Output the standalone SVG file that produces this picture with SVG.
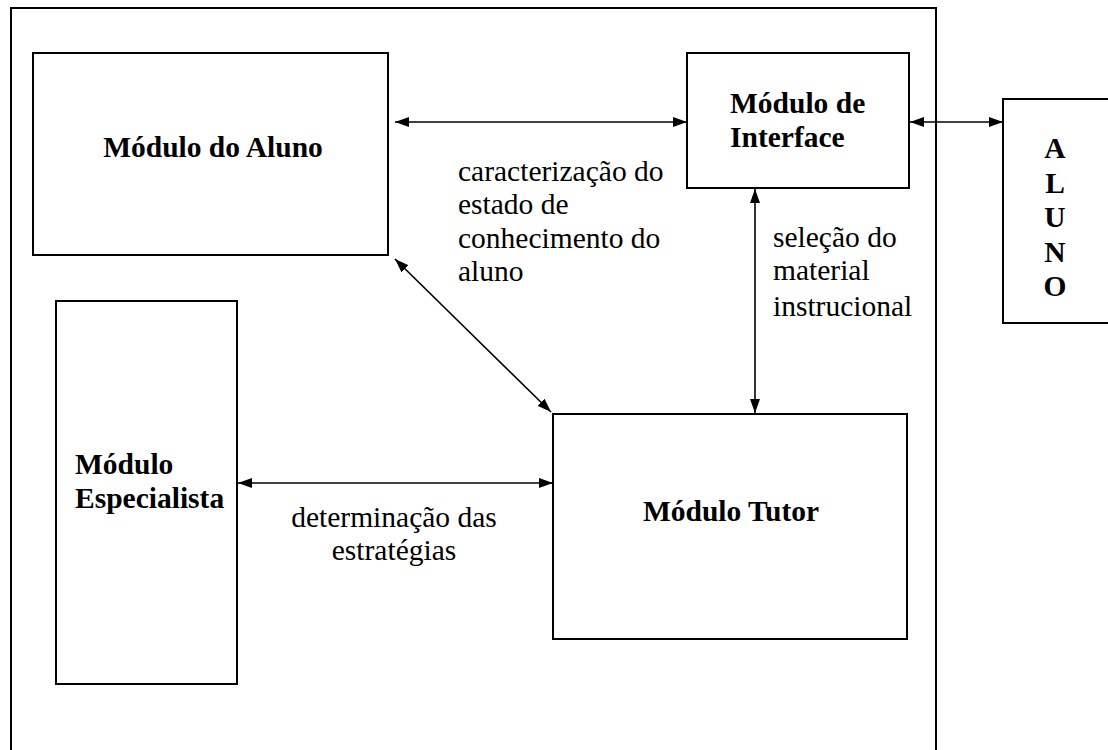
<svg xmlns="http://www.w3.org/2000/svg" width="1108" height="750" viewBox="0 0 1108 750">
<style>
.box{fill:#fff;stroke:#000;stroke-width:2}
.t{font-family:"Liberation Serif","Times New Roman",serif;font-size:29.5px;fill:#000}
.b{font-weight:bold}
.c{fill:none;stroke:#000;stroke-width:1.6}
</style>
<defs>
<marker id="ah" viewBox="0 0 14 10" refX="14" refY="5" markerWidth="14" markerHeight="10" markerUnits="userSpaceOnUse" orient="auto-start-reverse">
<path d="M0,0 L14,5 L0,10 Z" fill="#000"/>
</marker>
</defs>
<rect width="1108" height="750" fill="#fff"/>
<g id="frame"><path d="M11,760 V8 H936 V760" fill="none" stroke="#000" stroke-width="2"/></g>
<g id="modulo-aluno">
<rect class="box" x="33" y="53" width="355" height="202"/>
<text class="t b" x="213" y="157" text-anchor="middle">Módulo do Aluno</text>
</g>
<g id="modulo-interface">
<rect class="box" x="687" y="53" width="222" height="135"/>
<text class="t b" x="730" y="113">Módulo de</text>
<text class="t b" x="730" y="147">Interface</text>
</g>
<g id="aluno">
<rect class="box" x="1003" y="99" width="120" height="224"/>
<text class="t b" x="1055" y="158" text-anchor="middle">A</text>
<text class="t b" x="1055" y="193" text-anchor="middle">L</text>
<text class="t b" x="1055" y="227" text-anchor="middle">U</text>
<text class="t b" x="1055" y="262" text-anchor="middle">N</text>
<text class="t b" x="1055" y="296" text-anchor="middle">O</text>
</g>
<g id="modulo-especialista">
<rect class="box" x="56" y="301" width="181" height="383"/>
<text class="t b" x="75" y="474">Módulo</text>
<text class="t b" x="75" y="508">Especialista</text>
</g>
<g id="modulo-tutor">
<rect class="box" x="553" y="414" width="354" height="225"/>
<text class="t b" x="731" y="521" text-anchor="middle">Módulo Tutor</text>
</g>
<g id="connectors">
<line class="c" x1="395" y1="122" x2="687" y2="122" marker-start="url(#ah)" marker-end="url(#ah)"/>
<line class="c" x1="910" y1="122" x2="1003" y2="122" marker-start="url(#ah)" marker-end="url(#ah)"/>
<line class="c" x1="755" y1="189" x2="755" y2="413" marker-start="url(#ah)" marker-end="url(#ah)"/>
<line class="c" x1="395" y1="259" x2="551" y2="412" marker-start="url(#ah)" marker-end="url(#ah)"/>
<line class="c" x1="238" y1="483" x2="553" y2="483" marker-start="url(#ah)" marker-end="url(#ah)"/>
</g>
<g id="labels">
<text class="t" x="458" y="181">caracterização do</text>
<text class="t" x="458" y="214">estado de</text>
<text class="t" x="458" y="248">conhecimento do</text>
<text class="t" x="458" y="281">aluno</text>
<text class="t" x="773" y="247">seleção do</text>
<text class="t" x="773" y="280">material</text>
<text class="t" x="773" y="316">instrucional</text>
<text class="t" x="394" y="527" text-anchor="middle">determinação das</text>
<text class="t" x="394" y="560" text-anchor="middle">estratégias</text>
</g>
</svg>
